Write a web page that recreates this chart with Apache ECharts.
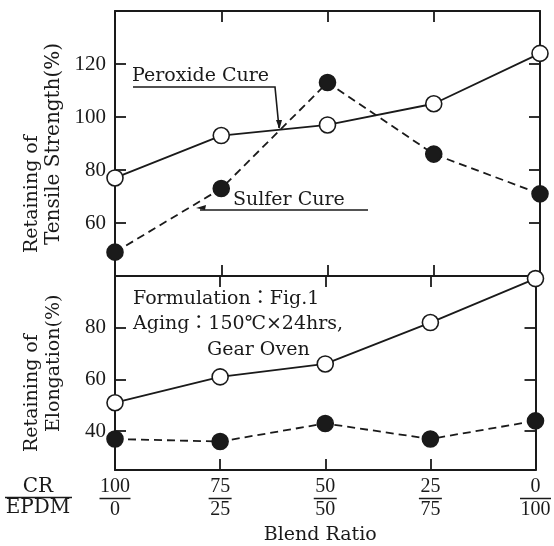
<!DOCTYPE html>
<html>
<head>
<meta charset="utf-8">
<script src="https://cdn.jsdelivr.net/npm/echarts@6/dist/echarts.min.js"></script>
<style>
  html, body { margin: 0; padding: 0; background: #fff; }
  #chart { width: 554px; height: 546px; }
</style>
</head>
<body>
<div id="chart"></div>
<script>
// blend ratio CR/EPDM
const categories = ["100/0", "75/25", "50/50", "25/75", "0/100"];

// retaining of tensile strength (%)
const tensilePeroxide = [77, 93, 97, 105, 124];
const tensileSulfer = [49, 73, 113, 86, 71];

// retaining of elongation (%)
const elongPeroxide = [51, 61, 66, 82, 99];
const elongSulfer = [37, 36, 43, 37, 44];

// tick labels
const tensileTicks = [60, 80, 100, 120];
const elongTicks = [40, 60, 80];

const ink = "#1a1a1a";
const serif = "'Liberation Serif', 'Noto Sans CJK JP', serif";
const wide = "'DejaVu Serif', 'Noto Sans CJK JP', serif";

const chart = echarts.init(document.getElementById("chart"));

function xAx(grid, pos, withLabels) {
  const ax = {
    type: "category",
    gridIndex: grid,
    position: pos,
    data: categories,
    boundaryGap: false,
    axisLine: { lineStyle: { color: ink, width: 2 } },
    axisTick: { inside: true, length: 11, lineStyle: { color: ink, width: 1.8 } },
    axisLabel: { show: false },
    splitLine: { show: false },
  };
  if (withLabels) {
    ax.axisLabel = {
      show: true,
      margin: 7,
      interval: 0,
      formatter: (v) => {
        const [n, d] = v.split("/");
        const bar = Math.max(n.length, d.length) > 2 ? "b3" : "b2";
        return "{n|" + n + "}\n{" + bar + "| }\n{n|" + d + "}";
      },
      rich: {
        n: { fontFamily: serif, fontSize: 20, color: ink, lineHeight: 20, align: "center" },
        b3: { width: 31, height: 1.5, lineHeight: 3, fontSize: 1, backgroundColor: ink, align: "center" },
        b2: { width: 23, height: 1.5, lineHeight: 3, fontSize: 1, backgroundColor: ink, align: "center" },
      },
    };
    ax.name = "Blend Ratio";
    ax.nameLocation = "middle";
    ax.nameGap = 56;
    ax.nameTextStyle = { fontFamily: wide, fontSize: 19, color: ink, padding: [0, 0, 0, -10] };
  }
  return ax;
}

function yAx(grid, pos, min, max, ticks, withLabels) {
  return {
    type: "value",
    gridIndex: grid,
    position: pos,
    min: min,
    max: max,
    axisLine: { show: true, lineStyle: { color: ink, width: 2 } },
    axisTick: { show: true, inside: true, length: 11, customValues: ticks, lineStyle: { color: ink, width: 1.8 } },
    axisLabel: {
      show: withLabels,
      customValues: ticks,
      margin: 9,
      fontFamily: serif,
      fontSize: 21,
      color: ink,
    },
    splitLine: { show: false },
  };
}

function line(name, x, y, data, filled) {
  return {
    name: name,
    type: "line",
    xAxisIndex: x,
    yAxisIndex: y,
    data: data,
    symbol: "circle",
    symbolSize: 16,
    lineStyle: { color: ink, width: 1.8, type: filled ? [8, 5] : "solid" },
    itemStyle: { color: filled ? ink : "#fff", borderColor: ink, borderWidth: 1.6 },
    z: 3,
    animation: false,
  };
}

function vtext(x, y, text, size) {
  return { type: "text", x: x, y: y, rotation: Math.PI / 2,
    style: { text: text, font: size + "px " + wide, fill: ink, align: "left", verticalAlign: "middle" } };
}

function htext(x, y, text, size, align) {
  return { type: "text", x: x, y: y,
    style: { text: text, font: size + "px " + wide, fill: ink, align: align || "left", verticalAlign: "middle" } };
}

const option = {
  animation: false,
  backgroundColor: "#fff",
  grid: [
    { left: 115, top: 11, width: 425, height: 265 },
    { left: 115, top: 276, width: 425, height: 194 },
  ],
  xAxis: [
    xAx(0, "bottom", false),
    xAx(0, "top", false),
    xAx(1, "bottom", true),
    xAx(1, "top", false),
  ],
  yAxis: [
    yAx(0, "left", 40, 140, tensileTicks, true),
    yAx(0, "right", 40, 140, tensileTicks, false),
    yAx(1, "left", 25, 100, elongTicks, true),
    yAx(1, "right", 25, 100, elongTicks, false),
  ],
  series: [
    line("Peroxide Cure", 0, 0, tensilePeroxide, false),
    line("Sulfer Cure", 0, 0, tensileSulfer, true),
    line("Peroxide Cure", 2, 2, elongPeroxide, false),
    line("Sulfer Cure", 2, 2, elongSulfer, true),
  ],
  graphic: [
    // y axis titles
    vtext(32, 253, "Retaining of", 19),
    vtext(54, 245, "Tensile Strength(%)", 20),
    vtext(32, 452, "Retaining of", 19),
    vtext(54, 432, "Elongation(%)", 19),
    // peroxide label with leader
    htext(132, 76, "Peroxide Cure", 19),
    { type: "polyline", shape: { points: [[133, 87], [275, 87], [279, 128]] },
      style: { stroke: ink, lineWidth: 1.6, fill: null } },
    { type: "polygon", shape: { points: [[276, 120], [282, 120], [279.5, 129]] }, style: { fill: ink } },
    // sulfer label with leader
    htext(233, 200, "Sulfer Cure", 19),
    { type: "line", shape: { x1: 200, y1: 210, x2: 368, y2: 210 }, style: { stroke: ink, lineWidth: 1.6 } },
    { type: "polygon", shape: { points: [[196, 208], [206, 205], [205, 210]] }, style: { fill: ink } },
    // conditions
    htext(133, 299, "Formulation：Fig.1", 19),
    htext(133, 324, "Aging：150℃×24hrs,", 19),
    htext(207, 350, "Gear Oven", 19),
    // CR / EPDM
    htext(38, 487, "CR", 20, "center"),
    { type: "line", shape: { x1: 5, y1: 497.5, x2: 72, y2: 497.5 }, style: { stroke: ink, lineWidth: 1.5 } },
    htext(38, 508, "EPDM", 20, "center"),
  ],
};

chart.setOption(option);
</script>
</body>
</html>
